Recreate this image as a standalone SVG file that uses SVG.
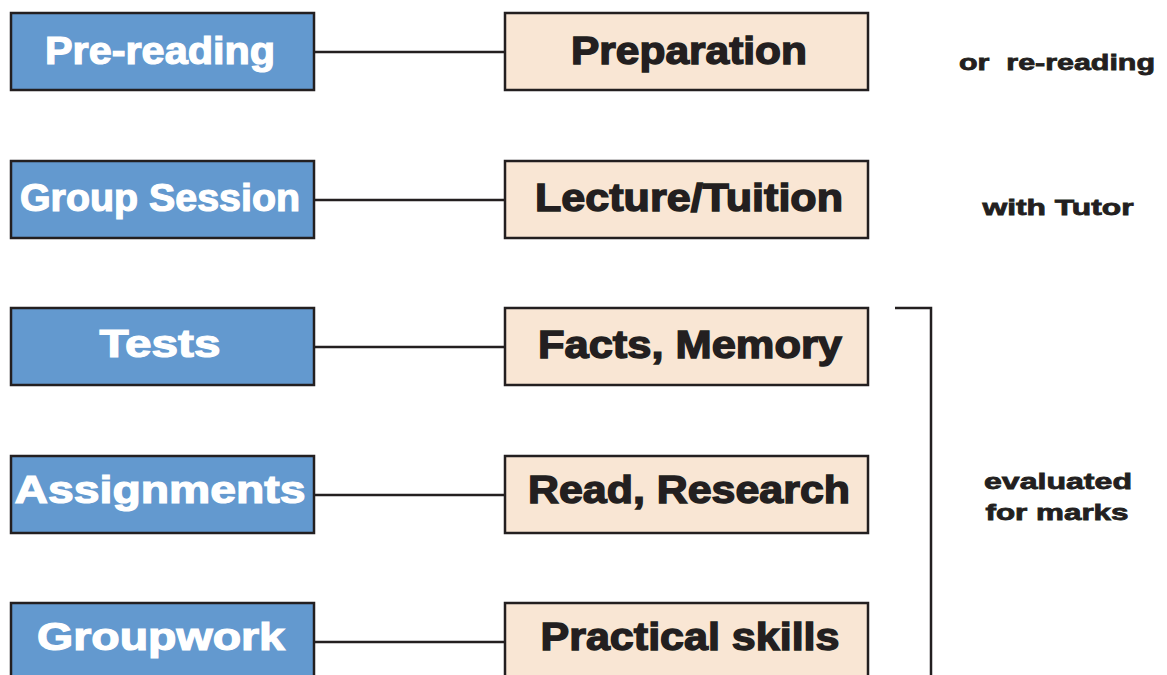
<svg xmlns="http://www.w3.org/2000/svg" width="1167" height="675" viewBox="0 0 1167 675">
<style>
.lb{fill:#6399cf;stroke:#231f20;stroke-width:2.5}
.rb{fill:#f9e6d4;stroke:#231f20;stroke-width:2.5}
.lt{font-family:"Liberation Sans",Arial,sans-serif;font-weight:bold;font-size:38px;fill:#ffffff;stroke:#ffffff;stroke-width:1.2;text-anchor:middle}
.rt{font-family:"Liberation Sans",Arial,sans-serif;font-weight:bold;font-size:38px;fill:#231f20;stroke:#231f20;stroke-width:1.4;text-anchor:middle}
.nt{font-family:"Liberation Sans",Arial,sans-serif;font-weight:bold;font-size:22px;fill:#231f20;stroke:#231f20;stroke-width:0.8;text-anchor:middle}
.ln{stroke:#231f20;stroke-width:2.5;fill:none}
</style>
<rect width="1167" height="675" fill="#ffffff"/>
<g id="connectors">
<line class="ln" x1="314" y1="52" x2="505" y2="52"/>
<line class="ln" x1="314" y1="200" x2="505" y2="200"/>
<line class="ln" x1="314" y1="347" x2="505" y2="347"/>
<line class="ln" x1="314" y1="495" x2="505" y2="495"/>
<line class="ln" x1="314" y1="642" x2="505" y2="642"/>
<polyline class="ln" points="895,308 931,308 931,676"/>
</g>
<g id="pre-reading"><rect class="lb" x="11" y="13" width="303" height="77"/><text class="lt" x="160" y="64" textLength="230" lengthAdjust="spacingAndGlyphs">Pre-reading</text></g>
<g id="preparation"><rect class="rb" x="505" y="13" width="363" height="77"/><text class="rt" x="689" y="64" textLength="236" lengthAdjust="spacingAndGlyphs">Preparation</text></g>
<g id="group-session"><rect class="lb" x="11" y="161" width="303" height="77"/><text class="lt" x="160" y="211" textLength="280" lengthAdjust="spacingAndGlyphs">Group Session</text></g>
<g id="lecture"><rect class="rb" x="505" y="161" width="363" height="77"/><text class="rt" x="689" y="211" textLength="308" lengthAdjust="spacingAndGlyphs">Lecture/Tuition</text></g>
<g id="tests"><rect class="lb" x="11" y="308" width="303" height="77"/><text class="lt" x="160" y="357" textLength="121" lengthAdjust="spacingAndGlyphs">Tests</text></g>
<g id="facts"><rect class="rb" x="505" y="308" width="363" height="77"/><text class="rt" x="690" y="358" textLength="304" lengthAdjust="spacingAndGlyphs">Facts, Memory</text></g>
<g id="assignments"><rect class="lb" x="11" y="456" width="303" height="77"/><text class="lt" x="160" y="503" textLength="291" lengthAdjust="spacingAndGlyphs">Assignments</text></g>
<g id="read-research"><rect class="rb" x="505" y="456" width="363" height="77"/><text class="rt" x="689" y="503" textLength="322" lengthAdjust="spacingAndGlyphs">Read, Research</text></g>
<g id="groupwork"><rect class="lb" x="11" y="603" width="303" height="90"/><text class="lt" x="161" y="650" textLength="248" lengthAdjust="spacingAndGlyphs">Groupwork</text></g>
<g id="practical"><rect class="rb" x="505" y="603" width="363" height="90"/><text class="rt" x="690" y="650" textLength="299" lengthAdjust="spacingAndGlyphs">Practical skills</text></g>
<g id="note-rereading"><text class="nt" x="1057" y="70" textLength="196" lengthAdjust="spacingAndGlyphs" xml:space="preserve">or  re-reading</text></g>
<g id="note-tutor"><text class="nt" x="1058" y="215" textLength="151" lengthAdjust="spacingAndGlyphs">with Tutor</text></g>
<g id="note-marks"><text class="nt" x="1058" y="489" textLength="148" lengthAdjust="spacingAndGlyphs">evaluated</text><text class="nt" x="1057" y="520" textLength="143" lengthAdjust="spacingAndGlyphs">for marks</text></g>
</svg>
